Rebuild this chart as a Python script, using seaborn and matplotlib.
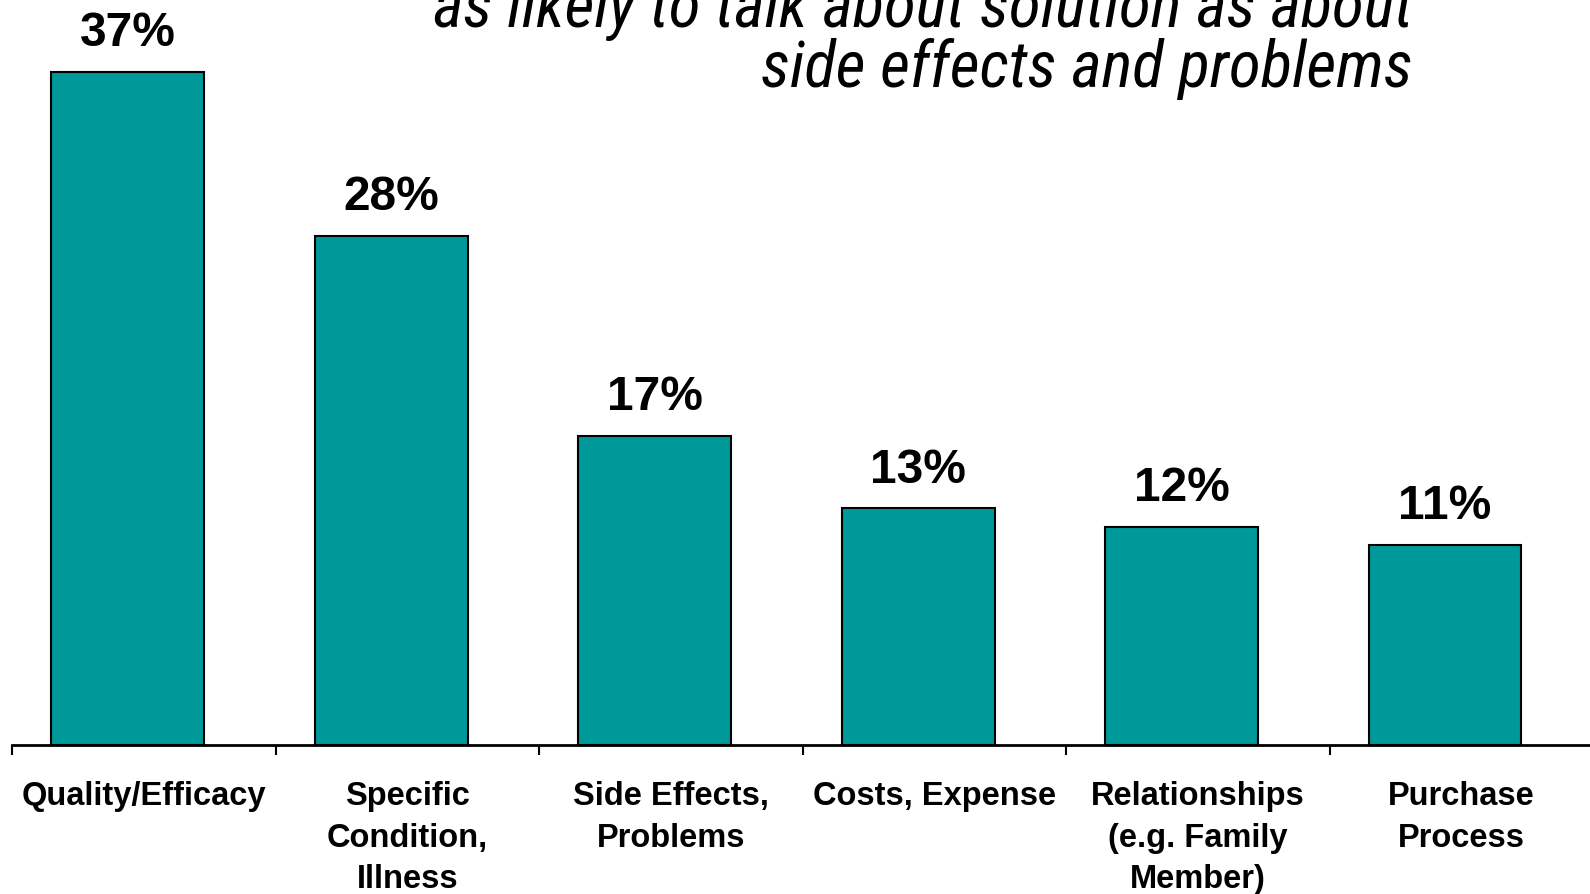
import matplotlib
matplotlib.use("Agg")
import matplotlib.pyplot as plt
import seaborn as sb
import pandas as pd
import numpy as np

# data
categories = ["Quality/Efficacy", "Specific\nCondition,\nIllness", "Side Effects,\nProblems",
              "Costs, Expense", "Relationships\n(e.g. Family\nMember)", "Purchase\nProcess"]
shares = [37, 28, 17, 13, 12, 11]
value_labels = ["37%", "28%", "17%", "13%", "12%", "11%"]
title_lines = ["as likely to talk about solution as about", "side effects and problems"]

teal = "#009999"
shift = 0.0615  # bars sit a bit left of the category centre, like the original

sb.set_style("white")
plt.rcParams["font.family"] = ["Liberation Sans", "DejaVu Sans"]
plt.rcParams["text.color"] = "black"
plt.rcParams["xtick.color"] = "black"

df = pd.DataFrame({"cat": categories, "share": shares})

fig = plt.figure(figsize=(15.9, 8.95), dpi=100)
ax = fig.add_axes([12.2 / 1590, 149 / 895, (1593 - 12.2) / 1590, 746 / 895])

sb.barplot(data=df, x="cat", y="share", color=teal, width=0.58, saturation=1,
           edgecolor="black", linewidth=1.5, ax=ax)

ax.bar_label(ax.containers[0], labels=value_labels, padding=12,
             fontsize=34.5, fontweight="bold", color="black")

ax.set_ylim(0, 41)
ax.set_xlim(-0.5 + shift, 5.5 + shift)
n = len(categories)
ax.set_xticks(np.arange(-1, n) + 0.5 + shift)
ax.set_xticklabels([])
ax.set_xticks(np.arange(n) + shift, minor=True)
ax.set_xticklabels(categories, minor=True, fontsize=23.5, fontweight="bold",
                   linespacing=1.45, color="black")
ax.tick_params(axis="x", which="major", direction="out", length=7, width=1.5,
               color="black", bottom=True)
ax.tick_params(axis="x", which="minor", length=0, pad=25)
ax.set_yticks([])
ax.set_xlabel("")
ax.set_ylabel("")
for s in ["left", "right", "top"]:
    ax.spines[s].set_visible(False)
ax.spines["bottom"].set_linewidth(2)
ax.spines["bottom"].set_color("black")

title_font = ["Roboto Condensed", "DejaVu Sans"]
fig.text(1413 / 1590, 1 - 27 / 895, title_lines[0], ha="right", va="baseline",
         fontsize=47, style="italic", family=title_font, color="black")
fig.text(1413 / 1590, 1 - 87 / 895, title_lines[1], ha="right", va="baseline",
         fontsize=47, style="italic", family=title_font, color="black")

plt.savefig("out.png", dpi=100)
